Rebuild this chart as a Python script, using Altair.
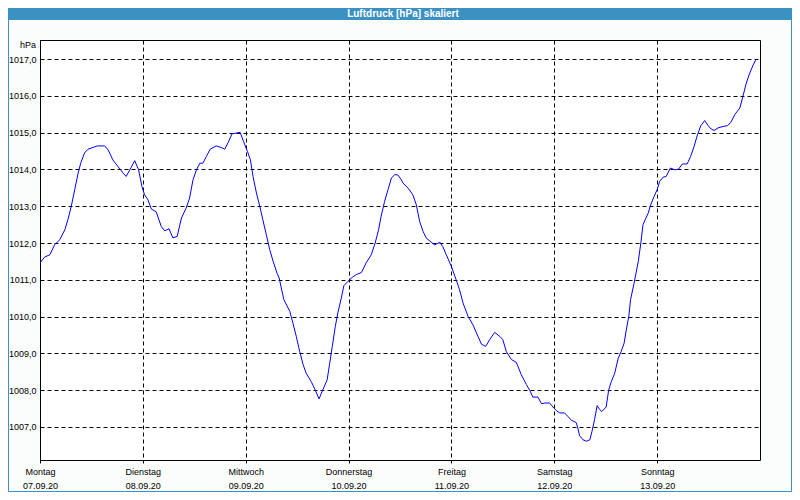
import json
import altair as alt
import pandas as pd

# hours since Monday 07.09.20 00:00
HOURS = [0.0,1.1,2.3,3.4,4.6,5.8,6.5,7.3,8.1,8.9,
         9.5,10.4,11.2,12.4,13.4,15.1,15.9,17.0,18.2,19.4,
         20.1,21.2,22.1,23.0,23.8,24.4,25.2,26.0,27.1,28.3,
         29.1,30.1,31.0,32.0,33.0,34.1,34.9,35.7,36.5,37.3,
         38.0,38.8,39.7,41.1,42.2,43.1,43.9,44.8,45.8,46.7,
         47.5,48.4,49.1,49.7,50.5,51.3,52.0,52.8,53.6,54.4,
         55.3,55.8,56.9,58.3,59.0,59.8,60.6,61.4,62.1,63.3,
         64.2,65.1,66.0,67.0,67.6,68.2,68.9,69.5,70.3,70.9,
         71.9,73.0,73.8,75.0,76.1,77.3,78.2,79.0,79.6,80.4,
         81.2,82.0,82.8,83.5,84.3,84.7,85.9,87.0,87.8,88.6,
         89.4,90.1,91.3,92.1,93.3,94.0,94.8,96.0,97.1,97.9,
         98.7,99.9,101.0,102.2,103.0,104.0,104.9,106.1,107.3,108.0,
         108.8,110.0,111.1,111.5,112.3,112.7,113.5,114.3,115.0,116.2,
         117.0,117.8,118.9,119.7,120.5,121.3,122.4,123.2,124.0,125.1,
         125.5,125.9,126.7,127.5,128.3,128.8,129.4,130.0,130.6,131.1,
         132.1,132.7,133.3,134.1,134.9,135.6,136.3,136.8,137.4,137.8,
         138.6,139.6,140.2,140.7,141.2,141.9,142.5,143.3,144.0,144.6,
         145.4,146.1,147.1,148.1,149.0,149.9,151.0,151.8,152.6,153.4,
         154.2,155.1,155.9,156.6,157.3,158.2,159.4,160.4,161.2,162.1,
         163.3,164.0,164.8,165.6,166.4,167.1]

PRESSURE = [1011.46,1011.62,1011.68,1011.95,1012.09,1012.36,1012.63,1013.0,1013.45,1013.9,
            1014.17,1014.45,1014.55,1014.6,1014.64,1014.64,1014.53,1014.26,1014.08,1013.9,
            1013.81,1014.04,1014.24,1013.99,1013.53,1013.31,1013.17,1012.92,1012.85,1012.45,
            1012.33,1012.39,1012.14,1012.18,1012.68,1012.95,1013.22,1013.72,1013.99,1014.17,
            1014.17,1014.35,1014.55,1014.64,1014.6,1014.55,1014.73,1014.97,1014.99,1015.01,
            1014.76,1014.49,1014.26,1013.81,1013.36,1012.99,1012.63,1012.23,1011.82,1011.5,
            1011.18,1011.05,1010.46,1010.14,1009.83,1009.46,1009.05,1008.69,1008.46,1008.23,
            1008.01,1007.76,1008.01,1008.28,1008.73,1009.19,1009.73,1010.1,1010.5,1010.84,
            1010.96,1011.08,1011.14,1011.2,1011.46,1011.68,1012.0,1012.36,1012.73,1013.13,
            1013.45,1013.77,1013.86,1013.85,1013.72,1013.63,1013.49,1013.31,1013.04,1012.58,
            1012.31,1012.14,1012.02,1011.95,1012.02,1011.9,1011.68,1011.36,1011.0,1010.73,
            1010.37,1010.0,1009.78,1009.46,1009.25,1009.19,1009.37,1009.57,1009.46,1009.37,
            1009.05,1008.83,1008.76,1008.65,1008.42,1008.33,1008.15,1007.99,1007.81,1007.81,
            1007.63,1007.65,1007.65,1007.54,1007.44,1007.38,1007.38,1007.28,1007.18,1007.12,
            1006.97,1006.76,1006.65,1006.61,1006.65,1006.88,1007.2,1007.58,1007.47,1007.42,
            1007.54,1008.01,1008.23,1008.46,1008.86,1009.05,1009.28,1009.64,1010.02,1010.46,
            1010.9,1011.5,1012.0,1012.5,1012.63,1012.81,1013.04,1013.27,1013.45,1013.68,
            1013.79,1013.81,1014.04,1013.99,1014.01,1014.15,1014.15,1014.35,1014.62,1014.94,
            1015.19,1015.33,1015.19,1015.1,1015.06,1015.13,1015.17,1015.19,1015.28,1015.49,
            1015.67,1015.98,1016.35,1016.62,1016.84,1017.0]

DAY_NAMES = ["Montag", "Dienstag", "Mittwoch", "Donnerstag", "Freitag", "Samstag", "Sonntag"]
DAY_DATES = ["07.09.20", "08.09.20", "09.09.20", "10.09.20", "11.09.20", "12.09.20", "13.09.20"]
DAY_TICKS = [0, 24, 48, 72, 96, 120, 144]
Y_TICKS = [1007, 1008, 1009, 1010, 1011, 1012, 1013, 1014, 1015, 1016, 1017]

TITLE = "Luftdruck [hPa] skaliert"
UNIT = "hPa"

df = pd.DataFrame({"h": HOURS, "p": PRESSURE})
one = pd.DataFrame({"a": [0]})

FONT = "Liberation Sans"
BLUE = "#3c91c3"

x_label_expr = "[%s[datum.value/24], %s[datum.value/24]]" % (json.dumps(DAY_NAMES), json.dumps(DAY_DATES))

line = alt.Chart(df).mark_line(color="#0000ff", strokeWidth=1, clip=True).encode(
    x=alt.X("h:Q", scale=alt.Scale(domain=[0, 168], nice=False, zero=False),
            axis=alt.Axis(title=None, values=DAY_TICKS, labelExpr=x_label_expr,
                          grid=True, gridColor="black", gridDash=[4, 3], gridOpacity=1,
                          domain=False, ticks=True, tickSize=3, tickColor="black",
                          labelFont=FONT, labelFontSize=9, labelColor="black",
                          labelPadding=4, labelLineHeight=14, labelFlush=False,
                          labelOverlap=False, labelAlign="center", labelBaseline="top")),
    y=alt.Y("p:Q", scale=alt.Scale(domain=[1006.1, 1017.52], nice=False, zero=False),
            axis=alt.Axis(title=None, values=Y_TICKS,
                          labelExpr="replace(format(datum.value, '.1f'), '.', ',')",
                          grid=True, gridColor="black", gridDash=[4, 3], gridOpacity=1,
                          domain=False, ticks=False, labelPadding=4,
                          labelFont=FONT, labelFontSize=9, labelColor="black")),
)

bar = alt.Chart(one).mark_rect(color=BLUE).encode(
    x=alt.value(-32), x2=alt.value(752), y=alt.value(-32), y2=alt.value(-20)
)
frame = alt.Chart(one).mark_rect(fill=None, stroke=BLUE, strokeWidth=1).encode(
    x=alt.value(-31.5), x2=alt.value(751.5), y=alt.value(-31.5), y2=alt.value(451.5)
)
title = alt.Chart(one).mark_text(color="white", font=FONT, fontSize=10, fontWeight="bold",
                                 align="center", baseline="middle").encode(
    x=alt.value(363), y=alt.value(-26), text=alt.value(TITLE)
)
unit = alt.Chart(one).mark_text(color="black", font=FONT, fontSize=9,
                                align="right", baseline="middle").encode(
    x=alt.value(-4), y=alt.value(5), text=alt.value(UNIT)
)

chart = alt.layer(bar, frame, line, title, unit).properties(
    width=720, height=420,
    padding={"left": 32, "top": 32, "right": 32, "bottom": 32},
    autosize=alt.AutoSizeParams(type="none"),
    background="#fbfcfc",
).configure_view(stroke="black", strokeWidth=1, fill="white")

chart.save("out.html", embed_options={"renderer": "svg", "actions": False})
